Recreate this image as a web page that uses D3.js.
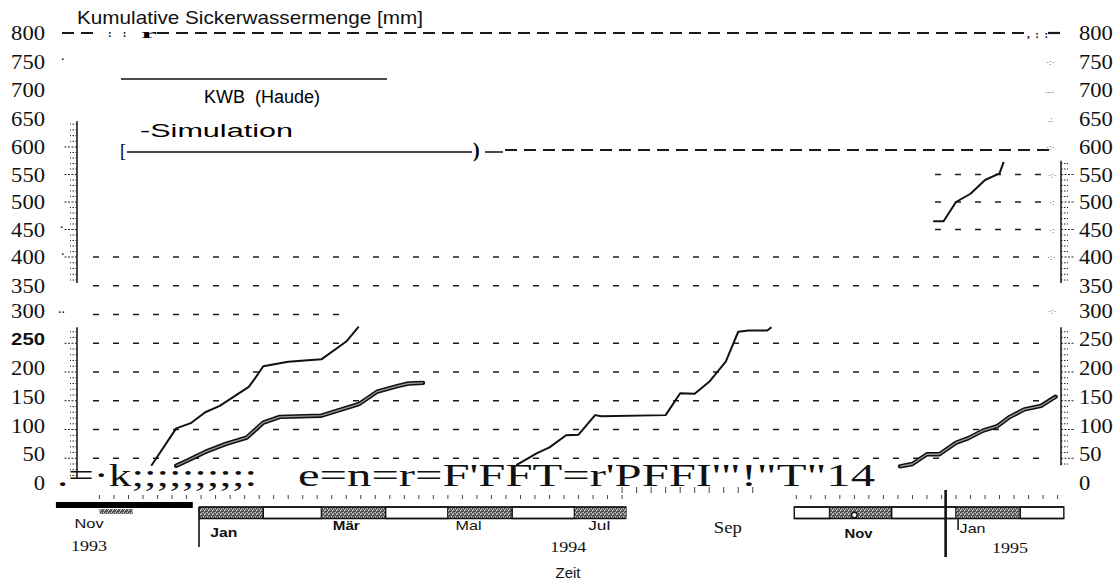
<!DOCTYPE html>
<html><head><meta charset="utf-8">
<script src="https://cdn.jsdelivr.net/npm/d3@7"></script>
<style>body{margin:0;background:#fff}svg{display:block}</style>
</head><body>
<svg id="c" width="1117" height="580"></svg>
<script>
// ---------------- data ----------------
const yTickValues = [0,50,100,150,200,250,300,350,400,450,500,550,600,650,700,750,800];

const kwb1Dates  = ["1993-12-09","1993-12-21","1993-12-28","1994-01-04","1994-01-11","1994-01-25","1994-01-28","1994-02-01","1994-02-13","1994-03-01","1994-03-13","1994-03-19"];
const kwb1Values = [37,102,111,130,141,174,189,210,218,222,253,279];

const sim1Dates  = ["1993-12-21","1993-12-27","1994-01-04","1994-01-14","1994-01-24","1994-02-01","1994-02-09","1994-03-01","1994-03-10","1994-03-19","1994-03-28","1994-04-07","1994-04-12","1994-04-19"];
const sim1Values = [37,47,61,75,86,112,122,124,134,144,166,176,180,181];

const kwb2Dates  = ["1994-06-03","1994-06-13","1994-06-19","1994-06-27","1994-07-03","1994-07-11","1994-07-14","1994-08-14","1994-08-21","1994-08-28","1994-09-04","1994-09-12","1994-09-18","1994-09-23","1994-10-02","1994-10-04"];
const kwb2Values = [38,59,69,90,91,125,123,125,163,162,183,218,270,272,272,278];

const kwb3Dates  = ["1994-12-21","1994-12-26","1995-01-01","1995-01-08","1995-01-15","1995-01-22","1995-01-24"];
const kwb3Values = [465,465,500,515,540,552,573];

const sim3Dates  = ["1994-12-05","1994-12-11","1994-12-18","1994-12-24","1995-01-01","1995-01-07","1995-01-14","1995-01-21","1995-01-27","1995-02-03","1995-02-11","1995-02-18"];
const sim3Values = [36,40,57,57,77,85,98,106,122,135,141,157];

// month boxes of the time bar: [start, end, kind]
const band1 = [["1994-01-01","1994-02-01","g"],["1994-02-01","1994-03-01","w"],["1994-03-01","1994-04-01","g"],["1994-04-01","1994-05-01","w"],["1994-05-01","1994-06-01","g"],["1994-06-01","1994-07-01","w"],["1994-07-01","1994-07-26","g"]];
const band2 = [["1994-10-15","1994-11-01","w"],["1994-11-01","1994-12-01","g"],["1994-12-01","1995-01-01","w"],["1995-01-01","1995-02-01","g"],["1995-02-01","1995-02-22","w"]];
const blackBar = ["1993-10-24","1993-12-29"];
const greyBar = ["1993-11-14","1993-11-30"];

const monthLabels     = ["Nov","Jan","Mär","Mal","Jul","Sep","Nov","Jan"];
const monthLabelDates = ["1993-11-09","1994-01-13","1994-03-13","1994-05-11","1994-07-13","1994-09-13","1994-11-15","1995-01-09"];
const yearLabels      = ["1993","1994","1995"];
const yearLabelDates  = ["1993-11-09","1994-06-28","1995-01-27"];

// ---------------- setup ----------------
const parse = d3.utcParse("%Y-%m-%d");
const svg = d3.select("#c");
const x = d3.scaleUtc().domain([parse("1994-01-01"), parse("1995-01-01")]).range([199, 956]);
const y = d3.scaleLinear().domain([0,400,600,800]).range([487,257,147,33]);
const SERIF = "'Liberation Serif','Times New Roman',serif";
const SANS = "'Liberation Sans',Arial,sans-serif";

const defs = svg.append("defs");
const pat = defs.append("pattern").attr("id","stip").attr("width",4).attr("height",4).attr("patternUnits","userSpaceOnUse");
pat.append("rect").attr("width",4).attr("height",4).attr("fill","#858585");
[[0,0],[2,1],[1,3],[3,2],[2,3]].forEach(([a,b])=>pat.append("rect").attr("x",a).attr("y",b).attr("width",1).attr("height",1).attr("fill","#3a3a3a"));
[[1,1],[3,0],[0,2]].forEach(([a,b])=>pat.append("rect").attr("x",a).attr("y",b).attr("width",1).attr("height",1).attr("fill","#c8c8c8"));

// title
svg.append("text").attr("x",77).attr("y",24).attr("font-family",SANS).attr("font-size",19)
  .attr("textLength",346).attr("lengthAdjust","spacingAndGlyphs").attr("fill","#111").text("Kumulative Sickerwassermenge [mm]");

// ---------------- grid lines ----------------
function hline(v, x0, x1, dash, w, off){
  const yy = y(v) + (off || 0);
  svg.append("line").attr("x1",x0).attr("x2",x1).attr("y1",yy).attr("y2",yy)
    .attr("stroke","#1a1a1a").attr("stroke-width",w).attr("stroke-dasharray",dash);
}
[50,100,150,200,250,350,400].forEach(v=>hline(v,93,1050,"6,14",1.3));
hline(300,93,345,"6,14",1.3);
[450,500,550].forEach(v=>hline(v,935,1050,"6,14",1.3));
// long-dash lines at 800 and 600
hline(800,62,100,"12,7",2.2);
hline(800,157,1025,"12,7",2.2);
hline(800,1048,1063,"12,7",2.2);
hline(600,505,1050,"12,7",2,3);
svg.append("text").attr("x",108).attr("y",37).attr("font-family",SERIF).attr("font-size",11).attr("font-weight","bold")
  .attr("xml:space","preserve").text(":    :");
svg.append("text").attr("x",141).attr("y",38).attr("font-family",SERIF).attr("font-size",13).attr("font-weight","bold")
  .attr("textLength",16).attr("lengthAdjust","spacingAndGlyphs").text("r");
svg.append("text").attr("x",1027).attr("y",38).attr("font-family",SERIF).attr("font-size",11).attr("font-weight","bold")
  .attr("xml:space","preserve").text(",  :  :");

// legend
svg.append("line").attr("x1",121).attr("x2",387).attr("y1",79).attr("y2",79).attr("stroke","#111").attr("stroke-width",1.3);
svg.append("text").attr("x",262).attr("y",103).attr("text-anchor","middle").attr("font-family",SANS).attr("font-size",18)
  .attr("xml:space","preserve").text("KWB  (Haude)");
svg.append("text").attr("x",140).attr("y",137).attr("font-family",SANS).attr("font-size",19)
  .attr("textLength",153).attr("lengthAdjust","spacingAndGlyphs").text("-Simulation");
svg.append("text").attr("x",120).attr("y",157).attr("font-family",SERIF).attr("font-size",18).text("[");
svg.append("line").attr("x1",127).attr("x2",472).attr("y1",y(600)+5).attr("y2",y(600)+5).attr("stroke","#111").attr("stroke-width",1.5);
svg.append("text").attr("x",473).attr("y",157).attr("font-family",SERIF).attr("font-size",20).attr("font-weight","bold").text(")");
svg.append("line").attr("x1",485).attr("x2",503).attr("y1",y(600)+5).attr("y2",y(600)+5).attr("stroke","#111").attr("stroke-width",1.5);

// ---------------- axes ----------------
function axisSeg(xp, lo, hi){
  svg.append("line").attr("x1",xp).attr("x2",xp).attr("y1",y(lo)).attr("y2",y(hi)).attr("stroke","#111").attr("stroke-width",1.5);
}
function ticks(xp, lo, hi, dir){
  d3.range(Math.ceil(lo/10)*10, hi+0.1, 10).forEach(v=>{
    const major = v % 50 === 0;
    svg.append("line").attr("x1",xp).attr("x2",xp+dir*(major?14:7)).attr("y1",y(v)).attr("y2",y(v))
      .attr("stroke","#222").attr("stroke-width",major?1.2:1).attr("stroke-dasharray",major?"2,1.5":"1.5,1.5");
  });
}
axisSeg(77,355,645); axisSeg(77,15,278);
ticks(77,355,645,-1); ticks(77,15,278,-1);
axisSeg(1061,355,575); axisSeg(1061,38,278);
ticks(1061,360,575,1); ticks(1061,40,278,1);

// tick labels
yTickValues.forEach(v=>{
  const yy = v <= 300 ? y(v)-4 : y(v);
  const txt = String(v);
  const w = txt.length*11.3;
  const left = svg.append("text").attr("x",45).attr("y",yy).attr("dy","0.35em").attr("text-anchor","end")
    .attr("textLength",w).attr("lengthAdjust","spacingAndGlyphs").attr("fill","#111").text(txt);
  if (v === 250) left.attr("font-family",SANS).attr("font-weight","bold").attr("font-size",17);
  else left.attr("font-family",SERIF).attr("font-size",20);
  svg.append("text").attr("x",1079).attr("y",yy).attr("dy","0.35em").attr("font-family",SERIF).attr("font-size",20)
    .attr("textLength",w).attr("lengthAdjust","spacingAndGlyphs").attr("fill","#111").text(txt);
});
// scan specks beside labels
[[61,750,"."],[60,450,"."],[61,400,"."],[58,300,".."]].forEach(([xp,v,t])=>
  svg.append("text").attr("x",xp).attr("y",y(v)-2).attr("font-family",SERIF).attr("font-size",14).text(t));
[[1046,750,"·:·"],[1045,700,"...."],[1048,650,".:"],[1046,600,"·:·"],[1048,550,"·:·"],[1049,500,"·:"],[1049,450,"·:"],[1047,400,"·:·"],[1048,300,"·:·"]].forEach(([xp,v,t])=>
  svg.append("text").attr("x",xp).attr("y",(v<=300?y(v)-4:y(v))+3).attr("font-family",SERIF).attr("font-size",9).attr("fill","#333").text(t));

// ---------------- series ----------------
function pts(ds, vs){ return ds.map((d,i)=>({date:parse(d), v:vs[i]})); }
const line = d3.line().x(d=>x(d.date)).y(d=>y(d.v));
function thin(data){
  svg.append("path").datum(data).attr("d",line).attr("fill","none").attr("stroke","#111").attr("stroke-width",2).attr("stroke-linejoin","round");
}
function thick(data){
  svg.append("path").datum(data).attr("d",line).attr("fill","none").attr("stroke","#111").attr("stroke-width",4.4).attr("stroke-linejoin","round").attr("stroke-linecap","round");
  svg.append("path").datum(data).attr("d",line).attr("fill","none").attr("stroke","#9a9a9a").attr("stroke-width",1.3).attr("stroke-linejoin","round");
}
thin(pts(kwb1Dates,kwb1Values));
thick(pts(sim1Dates,sim1Values));
thin(pts(kwb2Dates,kwb2Values));
thin(pts(kwb3Dates,kwb3Values));
thick(pts(sim3Dates,sim3Values));

// garbled scan text on the zero line
svg.append("text").attr("x",57).attr("y",486).attr("font-family",SERIF).attr("font-size",32)
  .attr("textLength",200).attr("lengthAdjust","spacingAndGlyphs").attr("fill","#111").text(".=·k;;;;;;;;;:");
svg.append("text").attr("x",298).attr("y",486).attr("font-family",SERIF).attr("font-size",31)
  .attr("textLength",577).attr("lengthAdjust","spacingAndGlyphs").attr("fill","#111").text("e=n=r=F'FFT=r'PFFI'\"!\"T\"14");

// ---------------- time bar ----------------
function weekTicks(a, b, y0, y1){
  d3.utcWeek.range(parse(a), parse(b)).forEach(d=>{
    svg.append("line").attr("x1",x(d)).attr("x2",x(d)).attr("y1",y0).attr("y2",y1).attr("stroke","#444").attr("stroke-width",1);
  });
}
weekTicks("1993-11-12","1994-07-28",495,499);
weekTicks("1994-10-14","1995-02-21",495,499);
weekTicks("1994-07-24","1994-09-30",487,493);

svg.append("rect").attr("x",x(parse(blackBar[0]))).attr("y",502).attr("width",x(parse(blackBar[1]))-x(parse(blackBar[0]))).attr("height",6).attr("fill","#000");
svg.append("rect").attr("x",x(parse(greyBar[0]))).attr("y",509).attr("width",x(parse(greyBar[1]))-x(parse(greyBar[0]))).attr("height",5).attr("fill","url(#stip)");

function band(boxes){
  boxes.forEach(([a,b,k])=>{
    svg.append("rect").attr("x",x(parse(a))).attr("y",507).attr("width",x(parse(b))-x(parse(a))).attr("height",11.5)
      .attr("fill",k==="g"?"url(#stip)":"#fff").attr("stroke","#111").attr("stroke-width",k==="g"?0.6:1.4);
  });
  const x0 = x(parse(boxes[0][0])), x1 = x(parse(boxes[boxes.length-1][1]));
  [507,518.5].forEach(yy=>svg.append("line").attr("x1",x0).attr("x2",x1).attr("y1",yy).attr("y2",yy).attr("stroke","#111").attr("stroke-width",1.6));
}
band(band1);
band(band2);

// separators
svg.append("line").attr("x1",x(parse("1994-01-01"))).attr("x2",x(parse("1994-01-01"))).attr("y1",507).attr("y2",547).attr("stroke","#111").attr("stroke-width",1.6);
svg.append("line").attr("x1",x(parse("1994-12-27"))).attr("x2",x(parse("1994-12-27"))).attr("y1",490).attr("y2",557).attr("stroke","#111").attr("stroke-width",2.6);
svg.append("line").attr("x1",x(parse("1995-01-02"))).attr("x2",x(parse("1995-01-02"))).attr("y1",518).attr("y2",530).attr("stroke","#111").attr("stroke-width",1.5);
svg.append("circle").attr("cx",x(parse("1994-11-13"))).attr("cy",515).attr("r",2.8).attr("fill","#fff").attr("stroke","#111").attr("stroke-width",1.4);

// month / year labels
const mStyle = [
  {f:SANS,w:"normal",s:13,y:528,l:29},
  {f:SANS,w:"bold",s:13,y:537,l:27},
  {f:SANS,w:"bold",s:13,y:530,l:27},
  {f:SANS,w:"normal",s:13,y:530,l:26},
  {f:SANS,w:"normal",s:13,y:530,l:22},
  {f:SERIF,w:"normal",s:16,y:533,l:28},
  {f:SANS,w:"bold",s:13,y:538,l:28},
  {f:SANS,w:"normal",s:13,y:533,l:26}
];
monthLabels.forEach((m,i)=>{
  const st = mStyle[i];
  svg.append("text").attr("x",x(parse(monthLabelDates[i]))).attr("y",st.y).attr("text-anchor","middle")
    .attr("font-family",st.f).attr("font-weight",st.w).attr("font-size",st.s)
    .attr("textLength",st.l).attr("lengthAdjust","spacingAndGlyphs").attr("fill","#111").text(m);
});
const yrY = [551,552,553];
yearLabels.forEach((t,i)=>{
  svg.append("text").attr("x",x(parse(yearLabelDates[i]))).attr("y",yrY[i]).attr("text-anchor","middle")
    .attr("font-family",SERIF).attr("font-size",15).attr("textLength",36).attr("lengthAdjust","spacingAndGlyphs").attr("fill","#111").text(t);
});
svg.append("text").attr("x",568).attr("y",578).attr("text-anchor","middle").attr("font-family",SANS).attr("font-size",15)
  .attr("textLength",25).attr("lengthAdjust","spacingAndGlyphs").attr("fill","#111").text("Zeit");
</script>
</body></html>
